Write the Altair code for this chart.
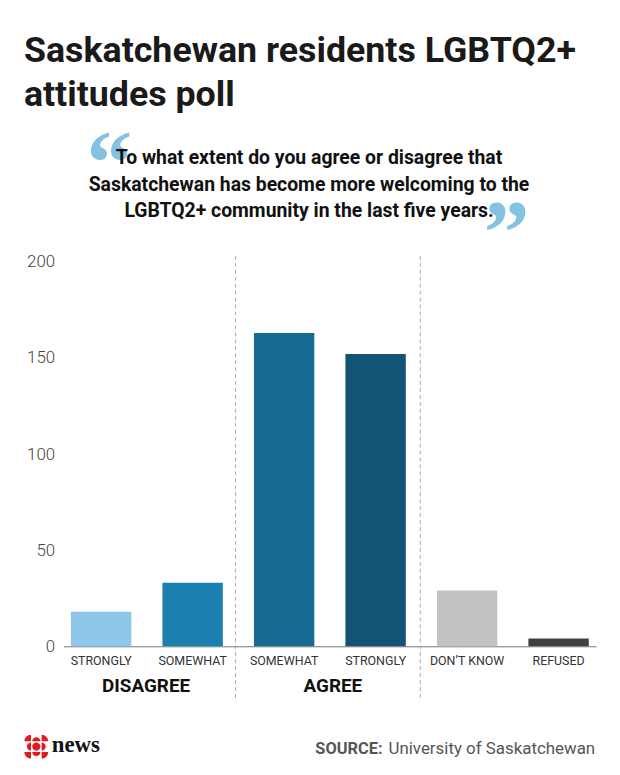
import json
import altair as alt
import pandas as pd

# ---- data ----
categories = ["Strongly disagree", "Somewhat disagree", "Somewhat agree",
              "Strongly agree", "Don't know", "Refused"]
tick_labels = ["STRONGLY", "SOMEWHAT", "SOMEWHAT", "STRONGLY", "DON’T KNOW", "REFUSED"]
values = [18, 33, 163, 152, 29, 4]
group_labels = ["DISAGREE", "AGREE"]
y_ticks = [0, 50, 100, 150, 200]

title_lines = ["Saskatchewan residents LGBTQ2+", "attitudes poll"]
question_lines = ["To what extent do you agree or disagree that",
                  "Saskatchewan has become more welcoming to the",
                  "LGBTQ2+ community in the last five years."]
source_bold = "SOURCE:"
source_text = "University of Saskatchewan"

colors = ["#8dc8e8", "#1b80af", "#166b91", "#125376", "#c2c2c2", "#404040"]

df = pd.DataFrame({"category": categories, "value": values})
label_map = json.dumps(dict(zip(categories, tick_labels)))

W, H = 536, 387

bars = alt.Chart(df).mark_bar().encode(
    x=alt.X("category:N", sort=categories, title=None,
            scale=alt.Scale(paddingInner=0.34, paddingOuter=0.08),
            axis=alt.Axis(labelAngle=0, ticks=False, domainColor="#777777",
                          domainWidth=1, labelFont="Roboto", labelFontSize=12.5,
                          labelColor="#333333", labelPadding=8,
                          labelExpr=f"{label_map}[datum.value]")),
    y=alt.Y("value:Q", title=None, scale=alt.Scale(domain=[0, 200]),
            axis=alt.Axis(values=y_ticks, grid=False, domain=False, ticks=False,
                          labelFont="Roboto", labelFontWeight=300,
                          labelFontSize=17, labelColor="#444444",
                          labelPadding=9)),
    color=alt.Color("category:N", scale=alt.Scale(domain=categories, range=colors),
                    legend=None),
)

one = alt.Data(values=[{"a": 1}])


def txt(text, x, y, **kw):
    return alt.Chart(one).mark_text(text=text, **kw).encode(
        x=alt.value(x), y=alt.value(y))


def vrule(x):
    return alt.Chart(one).mark_rule(color="#aaaaaa", strokeDash=[4, 3],
                                    strokeWidth=1).encode(
        x=alt.value(x), y=alt.value(-6), y2=alt.value(440))


layers = [bars, vrule(173), vrule(359)]

# group labels
layers.append(txt(group_labels[0], 83, 427, font="Roboto", fontSize=19,
                  fontWeight="bold", color="#111111", align="center",
                  baseline="middle"))
layers.append(txt(group_labels[1], 271, 427, font="Roboto", fontSize=19,
                  fontWeight="bold", color="#111111", align="center",
                  baseline="middle"))

# title
for i, line in enumerate(title_lines):
    layers.append(txt(line, -40, -201 + 44 * i, font="Roboto",
                      fontSize=36, fontWeight="bold", color="#1a1a1a",
                      align="left", baseline="alphabetic"))

# quote marks
layers.append(txt("“", 23, -69, font="Liberation Serif", fontSize=92,
                  fontWeight="bold", color="#84c2e2", align="left",
                  baseline="alphabetic"))
layers.append(txt("”", 423, 1, font="Liberation Serif", fontSize=92,
                  fontWeight="bold", color="#84c2e2", align="left",
                  baseline="alphabetic"))

# question
for i, line in enumerate(question_lines):
    layers.append(txt(line, 247, -98 + 26.5 * i, font="Roboto", fontSize=19.5,
                      fontWeight="bold", color="#111111", align="center",
                      baseline="alphabetic"))

# source
layers.append(txt(source_bold, 321, 495, font="Roboto", fontSize=16.5,
                  fontWeight="bold", color="#555555", align="right",
                  baseline="alphabetic"))
layers.append(txt(source_text, 327, 495, font="Roboto", fontSize=17,
                  color="#555555", align="left", baseline="alphabetic"))

# CBC logo
gem = ("M -0.28 0 A 0.28 0.28 0 1 0 0.28 0 A 0.28 0.28 0 1 0 -0.28 0 Z "
       "M -0.28 -0.36 A 0.28 0.28 0 0 1 0.28 -0.36 Z "
       "M 0.28 0.36 A 0.28 0.28 0 0 1 -0.28 0.36 Z "
       "M -0.36 0.28 A 0.28 0.28 0 0 1 -0.36 -0.28 Z "
       "M 0.36 -0.28 A 0.28 0.28 0 0 1 0.36 0.28 Z "
       "M 0.36 -0.81 A 0.45 0.45 0 0 1 0.81 -0.36 L 0.36 -0.36 Z "
       "M 0.81 0.36 A 0.45 0.45 0 0 1 0.36 0.81 L 0.36 0.36 Z "
       "M -0.36 0.81 A 0.45 0.45 0 0 1 -0.81 0.36 L -0.36 0.36 Z "
       "M -0.81 -0.36 A 0.45 0.45 0 0 1 -0.36 -0.81 L -0.36 -0.36 Z")
layers.append(alt.Chart(one).mark_point(shape=gem, filled=True, color="#e21a22",
                                        opacity=1, size=880, strokeWidth=0)
              .encode(x=alt.value(-27.5), y=alt.value(488)))
layers.append(txt("news", -12, 493, font="Liberation Serif", fontSize=23,
                  fontWeight="bold", color="#111111", align="left",
                  baseline="alphabetic"))

chart = alt.layer(*layers).properties(
    width=W, height=H,
    padding={"left": 56, "top": 253, "right": 16, "bottom": 115},
    autosize=alt.AutoSizeParams(type="none"),
).configure_view(stroke=None)

chart.save("out.html", embed_options={"renderer": "svg", "actions": False})
